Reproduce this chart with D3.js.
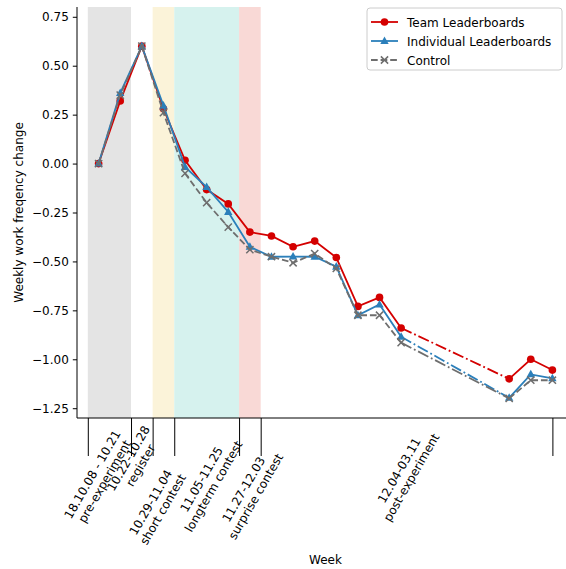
<!DOCTYPE html>
<html>
<head>
<meta charset="utf-8">
<script src="https://cdn.jsdelivr.net/npm/d3@7"></script>
<style>
  body { margin: 0; background: #fff; }
  svg text { font-family: "DejaVu Sans", sans-serif; font-size: 12px; fill: #000; }
</style>
</head>
<body>
<div id="chart"></div>
<script>
var width = 566,
    height = 569;

// weeks that have a value (gap 14 -> 19 drawn dash-dot)
var weeks = [0, 1, 2, 3, 4, 5, 6, 7, 8, 9, 10, 11, 12, 13, 14, 19, 20, 21];
var team = [0.00, 0.32, 0.60, 0.28, 0.017, -0.133, -0.206, -0.35, -0.37, -0.425, -0.396, -0.48, -0.73, -0.684, -0.84, -1.10, -1.00, -1.055];
var individual = [0.00, 0.36, 0.60, 0.296, -0.017, -0.12, -0.247, -0.425, -0.476, -0.475, -0.476, -0.527, -0.775, -0.72, -0.885, -1.197, -1.077, -1.097];
var control = [0.00, 0.35, 0.60, 0.26, -0.05, -0.20, -0.325, -0.44, -0.476, -0.507, -0.46, -0.536, -0.775, -0.775, -0.915, -1.20, -1.107, -1.107];

// experiment phases (week boundaries)
var phaseStart = [-0.5, 2.5, 3.5, 6.5];
var phaseEnd = [1.5, 3.5, 6.5, 7.5];
var phaseColor = ["#e4e4e4", "#fbf3d9", "#d6f2ee", "#f9d9d6"];

var boundaryTicks = [-0.5, 1.5, 2.5, 3.5, 6.5, 7.5, 21];
var periodLabels = [
    ["18.10.08 - 10.21", "pre-experiment"],
    ["10.22-10.28", "register"],
    ["10.29-11.04", "short contest"],
    ["11.05-11.25", "longterm contest"],
    ["11.27-12.03", "surprise contest"],
    ["12.04-03.11", "post-experiment"]
];
var periodLabelWeek = [0, 1.67, 2.7, 5.05, 7.0, 14.2];
var periodLabelDrop = [60, 44, 88, 65, 75, 56];

var yTicks = [-1.25, -1.0, -0.75, -0.5, -0.25, 0, 0.25, 0.5, 0.75];

var series = [
    {name: "Team Leaderboards", values: team, color: "#d40000", marker: "circle", dash: null},
    {name: "Individual Leaderboards", values: individual, color: "#2b7fba", marker: "triangle", dash: null},
    {name: "Control", values: control, color: "#6e6e6e", marker: "x", dash: "6.7,2.9"}
];

var plotL = 77, plotT = 7, plotB = 418, plotR = 574;

var x = d3.scaleLinear().domain([-1, 22]).range([plotL, plotR]);
var y = d3.scaleLinear().domain([-1.3, 0.8]).range([plotB, plotT]);

var svg = d3.select("#chart")
    .append("svg")
    .attr("width", width)
    .attr("height", height);

// shaded phases
svg.append("g")
    .selectAll("rect")
    .data(phaseStart).enter()
    .append("rect")
    .attr("x", function(d) { return x(d); })
    .attr("y", plotT)
    .attr("width", function(d, i) { return x(phaseEnd[i]) - x(d); })
    .attr("height", plotB - plotT)
    .attr("fill", function(d, i) { return phaseColor[i]; });

var dashDot = "11.5,2.9,1.8,2.9";

series.forEach(function(s) {
    var pts = weeks.map(function(w, i) { return [w, s.values[i]]; });
    var line = d3.line()
        .x(function(d) { return x(d[0]); })
        .y(function(d) { return y(d[1]); });
    var g = svg.append("g");
    // split into runs of consecutive weeks, gaps get dash-dot
    var run = [pts[0]];
    for (var i = 1; i < pts.length; i++) {
        if (pts[i][0] - pts[i - 1][0] > 1) {
            g.append("path").attr("d", line(run)).attr("fill", "none")
                .attr("stroke", s.color).attr("stroke-width", 1.8)
                .attr("stroke-dasharray", s.dash);
            g.append("path").attr("d", line([pts[i - 1], pts[i]])).attr("fill", "none")
                .attr("stroke", s.color).attr("stroke-width", 1.8)
                .attr("stroke-dasharray", dashDot);
            run = [pts[i]];
        } else {
            run.push(pts[i]);
        }
    }
    g.append("path").attr("d", line(run)).attr("fill", "none")
        .attr("stroke", s.color).attr("stroke-width", 1.8)
        .attr("stroke-dasharray", s.dash);

    g.selectAll(".m")
        .data(pts).enter()
        .append("path")
        .attr("transform", function(d) { return "translate(" + x(d[0]) + "," + y(d[1]) + ")"; })
        .each(function() { drawMarker(d3.select(this), s); });
});

function drawMarker(sel, s) {
    if (s.marker == "circle") {
        sel.attr("d", d3.symbol(d3.symbolCircle, 46)()).attr("fill", s.color);
    } else if (s.marker == "triangle") {
        sel.attr("d", "M0,-4.6L4.2,3L-4.2,3Z").attr("fill", s.color);
    } else {
        sel.attr("d", "M-3.6,-3.6L3.6,3.6M-3.6,3.6L3.6,-3.6")
            .attr("fill", "none").attr("stroke", s.color).attr("stroke-width", 1.5);
    }
}

// y axis
var yAxis = svg.append("g")
    .attr("transform", "translate(" + plotL + ",0)")
    .call(d3.axisLeft(y).tickValues(yTicks).tickFormat(d3.format(".2f")).tickSize(4.2).tickPadding(4));
yAxis.select(".domain").attr("d", "M0," + plotT + "V" + plotB).attr("stroke", "#000");
yAxis.selectAll("text").style("font-size", "12px").attr("fill", "#000");

// x axis: long boundary ticks, labels placed separately
var xAxis = svg.append("g")
    .attr("transform", "translate(0," + plotB + ")")
    .call(d3.axisBottom(x).tickValues(boundaryTicks).tickFormat("").tickSize(38));
xAxis.select(".domain").attr("d", "M" + plotL + ",0H" + plotR).attr("stroke", "#000");

var labelG = svg.append("g")
    .selectAll("g")
    .data(periodLabels).enter()
    .append("g")
    .attr("transform", function(d, i) {
        return "translate(" + x(periodLabelWeek[i]) + "," + (plotB + periodLabelDrop[i]) + ") rotate(-60)";
    });
labelG.each(function(d) {
    var t = d3.select(this).append("text").attr("text-anchor", "middle");
    t.append("tspan").attr("x", 0).attr("y", -3).text(d[0]);
    t.append("tspan").attr("x", 0).attr("y", 11).text(d[1]);
});

// axis titles
svg.append("text")
    .attr("transform", "translate(23," + ((plotT + plotB) / 2) + ") rotate(-90)")
    .attr("text-anchor", "middle")
    .text("Weekly work freqency change");

svg.append("text")
    .attr("x", (plotL + plotR) / 2)
    .attr("y", 564)
    .attr("text-anchor", "middle")
    .text("Week");

// legend
var legend = svg.append("g").attr("transform", "translate(367,8)");
legend.append("rect")
    .attr("width", 195).attr("height", 62).attr("rx", 3)
    .attr("fill", "#fff").attr("fill-opacity", 0.8)
    .attr("stroke", "#cccccc");
series.forEach(function(s, i) {
    var row = legend.append("g").attr("transform", "translate(0," + (14 + i * 19) + ")");
    row.append("line").attr("x1", 4).attr("x2", 31).attr("y1", 0).attr("y2", 0)
        .attr("stroke", s.color).attr("stroke-width", 1.8)
        .attr("stroke-dasharray", s.dash);
    drawMarker(row.append("path").attr("transform", "translate(17.5,0)"), s);
    row.append("text").attr("x", 40).attr("y", 4.5).text(s.name);
});
</script>
</body>
</html>
